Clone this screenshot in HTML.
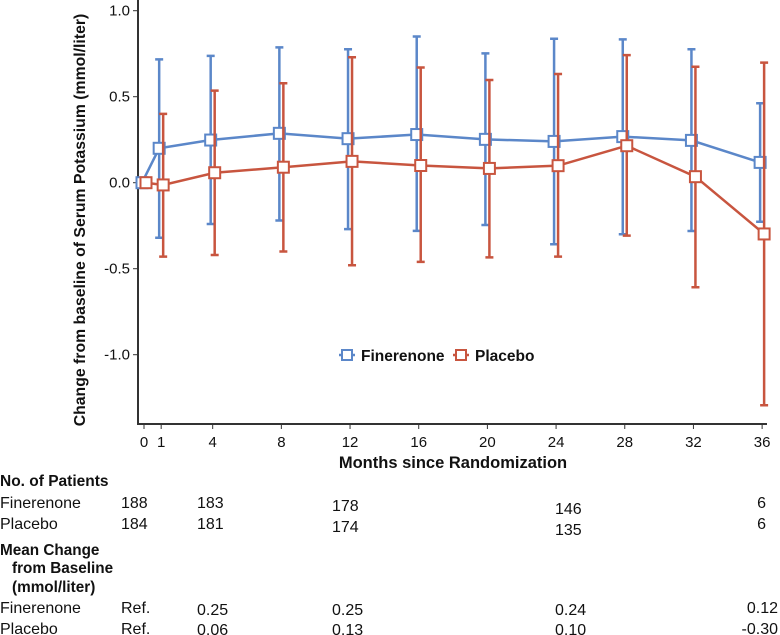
<!DOCTYPE html>
<html><head><meta charset="utf-8"><style>
body{margin:0;background:#fff;}
svg{display:block;font-family:"Liberation Sans",sans-serif;}
</style></head><body>
<svg id="chart" width="780" height="635" viewBox="0 0 780 635">
<g id="axes"></g><g id="series"></g><g id="table"></g>
</svg>
<script>
const months = [0,1,4,8,12,16,20,24,28,32,36];
const finMean = [0,0.20,0.248,0.287,0.256,0.28,0.252,0.24,0.268,0.246,0.118];
const finUpper = [null,0.717,0.737,0.787,0.776,0.85,0.752,0.837,0.833,0.776,0.462];
const finLower = [null,-0.32,-0.24,-0.22,-0.27,-0.28,-0.246,-0.358,-0.30,-0.281,-0.227];
const plaMean = [0,-0.013,0.058,0.09,0.124,0.10,0.083,0.099,0.215,0.035,-0.298];
const plaUpper = [null,0.40,0.535,0.578,0.729,0.67,0.597,0.632,0.742,0.674,0.698];
const plaLower = [null,-0.43,-0.42,-0.40,-0.48,-0.46,-0.434,-0.43,-0.308,-0.608,-1.294];
const yTicks = [1.0,0.5,0.0,-0.5,-1.0];
const yTickLabels = ["1.0","0.5","0.0","-0.5","-1.0"];
const xTicks = [0,1,4,8,12,16,20,24,28,32,36];
const tableMonths = [0,4,12,24,36];
const finN = ["188","183","178","146","6"];
const plaN = ["184","181","174","135","6"];
const finChange = ["Ref.","0.25","0.25","0.24","0.12"];
const plaChange = ["Ref.","0.06","0.13","0.10","-0.30"];

const NS="http://www.w3.org/2000/svg";
const X = m => 144 + m*17.17;
const Y = v => 182.7 - v*172;
function mk(tag, attrs, parent, text){
  const e=document.createElementNS(NS,tag);
  for(const k in attrs) e.setAttribute(k,attrs[k]);
  if(text!==undefined) e.textContent=text;
  parent.appendChild(e); return e;
}
const axes=document.getElementById('axes');
const series=document.getElementById('series');
const table=document.getElementById('table');

let yl=mk('line',{x1:138,y1:0,x2:138,y2:425,stroke:'#333','stroke-width':2},axes);


let xl=mk('line',{x1:137,y1:424,x2:767,y2:424,stroke:'#333','stroke-width':2},axes);


yTicks.forEach((v,i)=>{
  mk('line',{x1:133,y1:Y(v),x2:138,y2:Y(v),stroke:'#333','stroke-width':1},axes);
  const t=mk('text',{x:130,y:Y(v)+5,'text-anchor':'end','font-size':15,fill:'#111'},axes,yTickLabels[i]);
  
  
});
xTicks.forEach(m=>{
  mk('line',{x1:X(m),y1:424,x2:X(m),y2:429,stroke:'#333','stroke-width':1},axes);
  const t=mk('text',{x:X(m),y:447,'text-anchor':'middle','font-size':15,fill:'#111'},axes,String(m));
  
  
});
let yt=mk('text',{x:0,y:0,transform:'translate(85,220) rotate(-90)','text-anchor':'middle','font-size':15.8,'font-weight':'bold',fill:'#111'},axes,'Change from baseline of Serum Potassium (mmol/liter)');


let xt=mk('text',{x:453,y:468,'text-anchor':'middle','font-size':16.5,'font-weight':'bold',fill:'#111'},axes,'Months since Randomization');



function drawSeries(mean,up,lo,color,dx,name){
  const g=mk('g',{},series);
  
  
  months.forEach((m,i)=>{
    if(up[i]===null) return;
    const x=X(m)+dx;
    const eb=mk('path',{d:`M${x},${Y(up[i])}V${Y(lo[i])}M${x-4},${Y(up[i])}H${x+4}M${x-4},${Y(lo[i])}H${x+4}`,stroke:color,'stroke-width':2.5,fill:'none'},g);
    
    
  });
  const pts=months.map((m,i)=>`${X(m)+dx},${Y(mean[i])}`).join(' ');
  const pl=mk('polyline',{points:pts,stroke:color,'stroke-width':2.5,fill:'none'},g);
  
  
  months.forEach((m,i)=>{
    const r=mk('rect',{x:X(m)+dx-5.5,y:Y(mean[i])-5.5,width:11,height:11,fill:'#fff',stroke:color,'stroke-width':2},g);
    
    
  });
}
drawSeries(finMean,finUpper,finLower,'#5b87c9',-2,'finerenone');
drawSeries(plaMean,plaUpper,plaLower,'#c8553f',2,'placebo');

function legend(x,color,label,name){
  const g=mk('g',{},series);
  
  
  mk('line',{x1:x-8,y1:355,x2:x+8,y2:355,stroke:color,'stroke-width':2.5},g);
  mk('rect',{x:x-5,y:350,width:10,height:10,fill:'#fff',stroke:color,'stroke-width':2},g);
  mk('text',{x:x+14,y:361,'font-size':15.5,'font-weight':'bold',fill:'#111'},g,label);
}
legend(347,'#5b87c9','Finerenone','finerenone');
legend(461,'#c8553f','Placebo','placebo');

function txt(x,y,s,opts,name){
  const t=mk('text',Object.assign({x:x,y:y,'font-size':16,fill:'#111'},opts||{}),table,s);
  
  
  return t;
}
txt(0,486,'No. of Patients',{'font-weight':'bold','font-size':15.5},'patients-header');
txt(0,508,'Finerenone',{},'finerenone-n-label');
txt(0,529,'Placebo',{},'placebo-n-label');
txt(0,555,'Mean Change',{'font-weight':'bold','font-size':15.3},'mean-change-header');
txt(12,573,'from Baseline',{'font-weight':'bold','font-size':15.3},'mean-change-header-2');
txt(12,592,'(mmol/liter)',{'font-weight':'bold','font-size':15.3},'mean-change-header-3');
txt(0,613,'Finerenone',{},'finerenone-change-label');
txt(0,634,'Placebo',{},'placebo-change-label');
const colX=[121,197,332,555,766];
const colDy=[0,0,3,6,0];
tableMonths.forEach((m,i)=>{
  const opt=i===4?{'text-anchor':'end'}:{};
  txt(colX[i],508+colDy[i],finN[i],opt,'finerenone-n-'+m);
  txt(colX[i],529+colDy[i],plaN[i],opt,'placebo-n-'+m);
  const opt2=i===4?{'text-anchor':'end'}:{};
  const cx=i===4?778:colX[i];
  txt(cx,613+(i>0&&i<4?2:0),finChange[i],opt2,'finerenone-change-'+m);
  txt(cx,634+(i>0&&i<4?1:0),plaChange[i],opt2,'placebo-change-'+m);
});
</script>
</body></html>
